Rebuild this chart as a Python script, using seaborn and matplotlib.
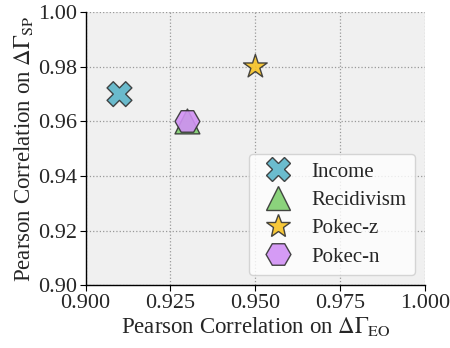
import matplotlib
matplotlib.use("Agg")
import matplotlib.pyplot as plt
import seaborn as sns
import pandas as pd

datasets = ["Income", "Recidivism", "Pokec-z", "Pokec-n"]
corr_eo = [0.91, 0.93, 0.95, 0.93]
corr_sp = [0.97, 0.96, 0.98, 0.96]
colors = ["#5bb5c9", "#7fcf6e", "#f7c325", "#d191f5"]
markers = ["X", "^", "*", "H"]
xticks = [0.900, 0.925, 0.950, 0.975, 1.000]
yticks = [0.90, 0.92, 0.94, 0.96, 0.98, 1.00]

sns.set_style("whitegrid")
plt.rcParams["font.family"] = ["Liberation Serif", "DejaVu Serif"]
plt.rcParams["mathtext.fontset"] = "stix"

df = pd.DataFrame({"Dataset": datasets, "EO": corr_eo, "SP": corr_sp})

fig, ax = plt.subplots(figsize=(4.5, 3.48), dpi=100)
ax.set_facecolor("#f0f0f0")
sns.scatterplot(data=df, x="EO", y="SP", hue="Dataset", style="Dataset",
                palette=dict(zip(datasets, colors)),
                markers=dict(zip(datasets, markers)),
                s=320, edgecolor="#333333", linewidth=1.0, alpha=0.9, ax=ax)

ax.set_xlim(0.9, 1.0)
ax.set_ylim(0.9, 1.0)
ax.set_xticks(xticks)
ax.set_yticks(yticks)
ax.set_xticklabels([f"{t:.3f}" for t in xticks])
ax.set_yticklabels([f"{t:.2f}" for t in yticks])
ax.tick_params(axis="both", labelsize=16, length=4, pad=2, color="black", left=True, bottom=True)
ax.grid(True, linestyle=":", color="#999999", linewidth=0.9)
for s in ["top", "right"]:
    ax.spines[s].set_visible(False)
for s in ["left", "bottom"]:
    ax.spines[s].set_color("black")
    ax.spines[s].set_linewidth(1.0)

ax.set_xlabel(r"Pearson Correlation on $\Delta\Gamma_{\mathrm{EO}}$", fontsize=16.5, labelpad=2)
ax.set_ylabel(r"Pearson Correlation on $\Delta\Gamma_{\mathrm{SP}}$", fontsize=16.5, labelpad=2)

leg = ax.legend(loc="lower right", fontsize=15, markerscale=1.0, frameon=True,
                handletextpad=0.6, borderpad=0.4, labelspacing=0.42)
leg.get_frame().set_facecolor("white")
leg.get_frame().set_alpha(0.8)

fig.subplots_adjust(left=0.19, right=0.945, top=0.965, bottom=0.18)
fig.savefig("out.png", dpi=100)
